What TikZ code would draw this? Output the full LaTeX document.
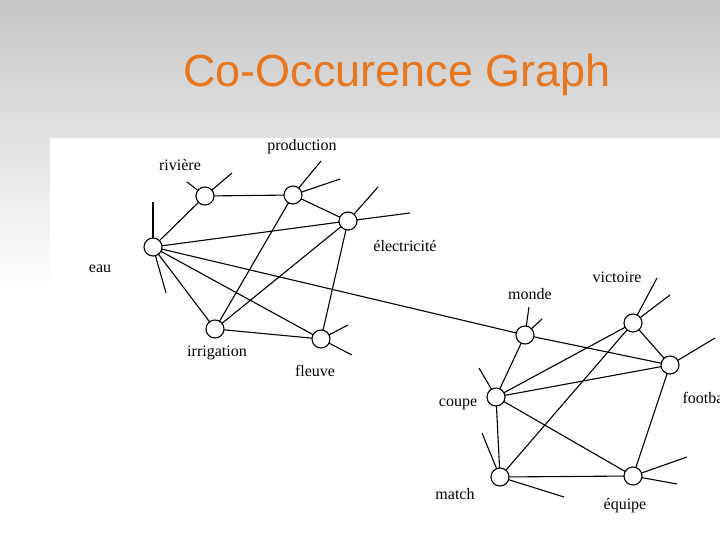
\documentclass[tikz,border=0pt]{standalone}
\usepackage{fontspec}
\setmainfont{Liberation Serif}
\newfontfamily\titlefont{Liberation Sans}
\definecolor{titleorange}{HTML}{E8761E}
\begin{document}
\begin{tikzpicture}[x=1pt,y=-1pt,
  vert/.style={circle,draw,fill=white,minimum size=18pt,inner sep=0pt,line width=1.1pt},
  edge/.style={line width=1.1pt},
  lab/.style={font=\fontsize{16}{18}\selectfont}]
\useasboundingbox (0,0) rectangle (720,540);
\clip (0,0) rectangle (720,540);
\shade[top color=black!22,bottom color=white] (0,0) rectangle (720,290);
\fill[white] (0,290) rectangle (720,540);
\fill[white] (50,138) rectangle (720,540);
\node[text=titleorange,font=\titlefont\fontsize{45}{50}\selectfont] (title) at (397,75) {Co-Occurence Graph};
% vertices
\foreach \n/\x/\y in {riv/205/196,prod/293/195,elec/348/221,eau/153/247,irr/215/329,fle/321/339,
  mon/525/335,vic/633/323,foot/670/365,cou/496/397,mat/500/477,equ/633/476}
  \coordinate (\n) at (\x,\y);
% stub ends
\foreach \n/\x/\y in {s1/187/182,s2/232/173,s3/321/161,s4/340/179,s5/378/187,s6/410/213,s7/153/202,s8/166/293,
  s9/348/325,s10/352/355,s11/529/307,s12/542/319,s13/657/278,s14/670/295,s15/715/338,s16/479/368,
  s17/482/433,s18/564/497,s19/687/457,s20/677/484}
  \coordinate (\n) at (\x,\y);
\foreach \a/\b in {riv/s1,riv/s2,prod/s3,prod/s4,elec/s5,elec/s6,eau/s7,eau/s8,fle/s9,fle/s10,mon/s11,mon/s12,
  vic/s13,vic/s14,foot/s15,cou/s16,mat/s17,mat/s18,equ/s19,equ/s20,
  eau/riv,riv/prod,prod/elec,eau/elec,eau/irr,eau/fle,prod/irr,elec/irr,elec/fle,irr/fle,eau/mon,
  mon/cou,mon/foot,cou/vic,cou/foot,cou/mat,cou/equ,vic/foot,vic/mat,mat/equ,foot/equ}
  \draw[edge] (\a) -- (\b);
\foreach \n in {riv,prod,elec,eau,irr,fle,mon,vic,foot,cou,mat,equ}
  \node[vert] (v\n) at (\n) {};
\node[lab] (lriv) at (180,165) {rivière};
\node[lab] (lprod) at (302,147) {production};
\node[lab] (lelec) at (405,246) {électricité};
\node[lab] (leau) at (100,269) {eau};
\node[lab] (lirr) at (217,353) {irrigation};
\node[lab] (lfle) at (315,371) {fleuve};
\node[lab] (lmon) at (530,294) {monde};
\node[lab] (lvic) at (617,277) {victoire};
\node[lab,anchor=west] (lfoot) at (679,398) {football};
\node[lab] (lcou) at (458,404) {coupe};
\node[lab] (lmat) at (455,494) {match};
\node[lab] (lequ) at (625,506) {équipe};
\end{tikzpicture}
\end{document}
